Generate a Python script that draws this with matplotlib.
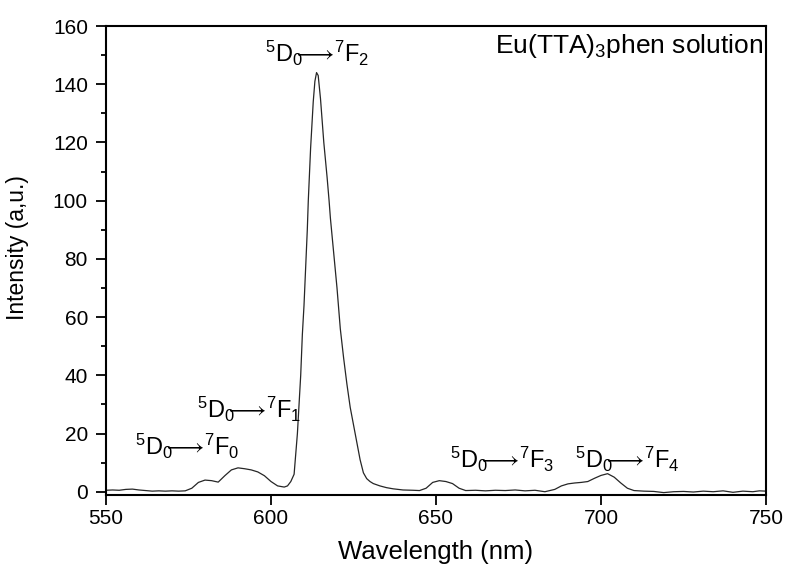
import matplotlib
matplotlib.use("Agg")
import matplotlib.pyplot as plt
from matplotlib.ticker import MultipleLocator

# emission spectrum
wavelength = [550, 552, 554, 556, 558, 560, 562, 564, 566, 568, 570, 572, 574,
              576, 578, 580, 582, 584, 586, 588, 590, 592, 594, 596, 598, 600,
              602, 604, 605, 606, 607, 608, 609, 609.5, 610, 611, 611.3, 612,
              612.8, 613.3, 613.8, 614.3, 615, 616, 617, 617.6, 618, 619, 620,
              621, 622, 623, 624, 625, 626, 627, 628, 629, 630, 631, 633, 635,
              637, 640, 643, 645, 647, 649, 651, 653, 655, 657, 659, 662, 665,
              668, 671, 674, 677, 680, 683, 686, 688, 690, 692, 694, 696, 698,
              700, 702, 704, 706, 708, 710, 713, 716, 719, 722, 725, 728, 731,
              734, 737, 740, 743, 746, 748, 750]
intensity = [0.5, 0.6, 0.5, 0.8, 0.9, 0.6, 0.4, 0.2, 0.3, 0.2, 0.3, 0.2, 0.3,
             1.2, 3.2, 4.0, 3.8, 3.3, 5.5, 7.5, 8.2, 7.9, 7.5, 6.8, 5.5, 3.5,
             2.0, 1.6, 2.0, 3.5, 6.0, 20, 40, 54, 64, 90, 100, 118,
             134, 141, 144, 143, 135, 120, 108, 100, 94, 82, 70,
             56, 46, 37, 29, 23, 17, 11, 6.5, 4.5, 3.5, 2.8, 2.0, 1.4,
             1.0, 0.6, 0.5, 0.4, 1.2, 3.2, 3.8, 3.5, 2.8, 1.2, 0.4, 0.5, 0.3,
             0.5, 0.4, 0.6, 0.3, 0.5, 0.0, 0.8, 2.0, 2.7, 3.0, 3.2, 3.5, 4.6,
             5.6, 6.2, 5.0, 3.0, 1.2, 0.4, 0.2, 0.1, -0.3, 0.0, 0.1, -0.1, 0.2,
             0.0, 0.3, -0.2, 0.2, 0.0, 0.3, 0.2]

final_levels = ['0', '1', '2', '3', '4']
label_x = [558.8, 577.6, 598.1, 654.2, 692.2]
label_y = [12.6, 25.3, 147.7, 8.1, 8.1]

plt.rcParams['font.family'] = ['Liberation Sans', 'DejaVu Sans']
plt.rcParams['mathtext.fontset'] = 'custom'
plt.rcParams['mathtext.rm'] = 'Liberation Sans'
plt.rcParams['mathtext.it'] = 'Liberation Sans'
plt.rcParams['mathtext.default'] = 'rm'

fig = plt.figure(figsize=(7.87, 5.68), dpi=100)
ax = fig.add_axes([0.1347, 0.1285, 0.8386, 0.8257])

ax.plot(wavelength, intensity, color='#262626', linewidth=0.9)

ax.set_xlim(550, 750)
ax.set_ylim(-1.13, 160)
ax.xaxis.set_major_locator(MultipleLocator(50))
ax.yaxis.set_major_locator(MultipleLocator(20))
ax.yaxis.set_minor_locator(MultipleLocator(10))
ax.tick_params(axis='both', which='major', direction='out', length=7, width=1.3,
               labelsize=15, top=False, right=False)
ax.tick_params(axis='y', which='major', pad=6)
ax.tick_params(axis='x', which='major', pad=3)
ax.tick_params(axis='y', which='minor', direction='out', length=3.5, width=1.3)
for sp in ax.spines.values():
    sp.set_linewidth(1.5)

ax.set_xlabel('Wavelength (nm)', fontsize=18.5, labelpad=9)
ax.set_ylabel('Intensity (a,u.)', fontsize=16.5)
ax.yaxis.set_label_coords(-0.117, 0.527)

for lev, x, y in zip(final_levels, label_x, label_y):
    txt = r"$^{5}$D$_{0}\!\!\!\longrightarrow\!$$^{7}$F$_{" + lev + "}$"
    ax.text(x, y, txt, fontsize=17, ha='left', va='baseline')

ax.text(749.2, 150.6, r"Eu(TTA)$_{3}$phen solution", fontsize=19,
        ha='right', va='baseline')

fig.savefig('out.png', dpi=100)
